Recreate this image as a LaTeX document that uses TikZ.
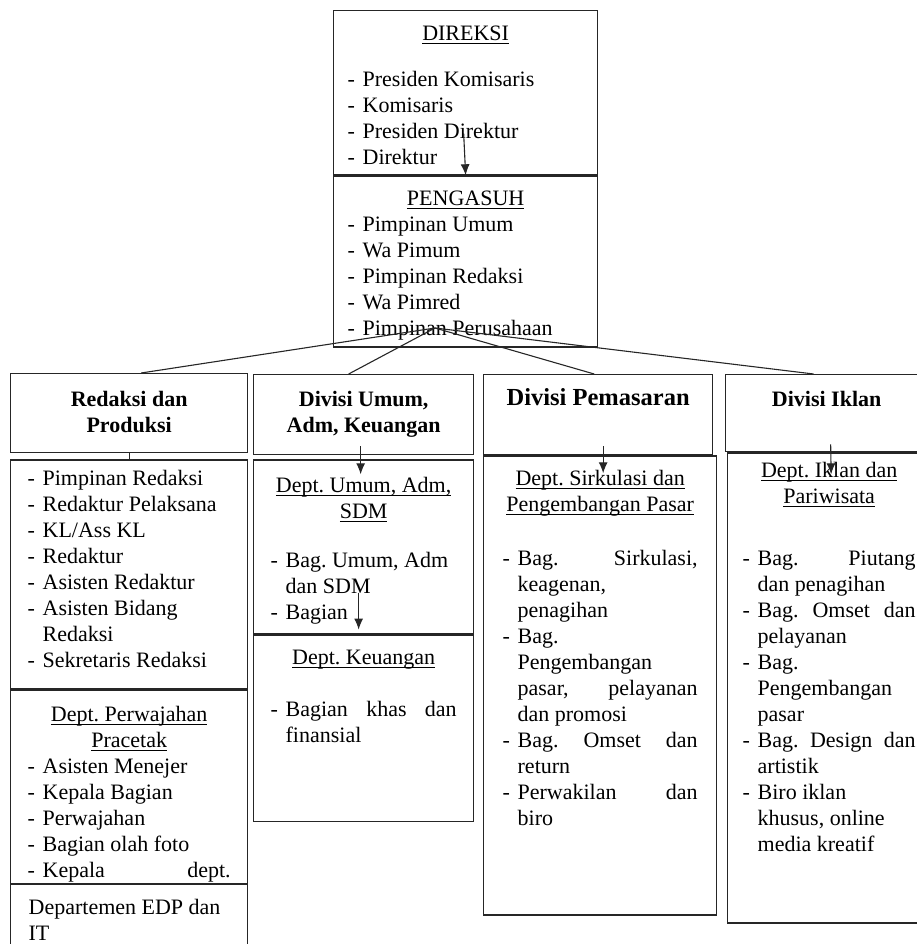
\documentclass[tikz,border=0pt]{standalone}
\usepackage{fontspec}
\setmainfont{Liberation Serif}
\usetikzlibrary{positioning, arrows.meta}
\tikzstyle{unit} = [draw=black!85, line width=1.3pt, inner ysep=0pt, font=\fontsize{22}{26}\selectfont]
\tikzstyle{arr} = [-{Latex[length=11pt,width=9pt]}, line width=1.1pt, black!85]
\tikzstyle{link} = [line width=1.1pt, black!85]
\newsavebox{\ulbox}
\newcommand{\uln}[1]{\leavevmode\sbox{\ulbox}{#1}\rlap{\rule[-3.5pt]{\wd\ulbox}{1pt}}\usebox{\ulbox}}
\newcommand{\cell}[3]{\parbox[c][#2][t]{#1}{\frenchspacing #3}}
\newcommand{\itm}{\makebox[15pt][l]{-}}
\newcommand{\indt}{\hspace*{15pt}}

\begin{document}
\begin{tikzpicture}[x=1pt, y=-1pt]
    \useasboundingbox (0,0) rectangle (917,944);
    \clip (0,0) rectangle (917,944);
    \node (direksi) [unit, anchor=north west, inner xsep=14pt] at (333,10) {\cell{236pt}{164pt}{\vspace*{11.8pt}{\centering\strut\uln{DIREKSI}\par}\vspace{20pt}\itm Presiden Komisaris\\ \itm Komisaris\\ \itm Presiden Direktur\\ \itm Direktur}};
    \node (pengasuh) [unit, below=0pt of direksi, inner xsep=14pt] {\cell{236pt}{171pt}{\vspace*{11.8pt}{\centering\strut\uln{PENGASUH}\par}\itm Pimpinan Umum\\ \itm Wa Pimum\\ \itm Pimpinan Redaksi\\ \itm Wa Pimred\\ \itm Pimpinan Perusahaan}};

    \node (redaksi) [unit, anchor=north west, inner xsep=10pt] at (10,373) {\cell{217pt}{79pt}{\vspace*{14.8pt}\centering\bfseries\strut Redaksi dan\\ Produksi}};
    \node (redstaf) [unit, below=6pt of redaksi, inner xsep=17pt] {\cell{203pt}{229pt}{\vspace*{7.8pt}\strut\itm Pimpinan Redaksi\\ \itm Redaktur Pelaksana\\ \itm KL/Ass KL\\ \itm Redaktur\\ \itm Asisten Redaktur\\ \itm Asisten Bidang\\ \indt Redaksi\\ \itm Sekretaris Redaksi}};
    \node (pracetak) [unit, below=0pt of redstaf, inner xsep=17pt] {\cell{203pt}{193pt}{\vspace*{12.8pt}{\centering\strut\uln{Dept. Perwajahan}\\ \uln{Pracetak}\par}\itm Asisten Menejer\\ \itm Kepala Bagian\\ \itm Perwajahan\\ \itm Bagian olah foto\\ \itm Kepala\hfill dept.}};
    \node (edp) [unit, below=0pt of pracetak, inner xsep=18pt] {\cell{201pt}{90pt}{\vspace*{11.8pt}\strut Departemen EDP dan\\ IT}};

    \node (umum) [unit, anchor=north west, inner xsep=10pt] at (253,374) {\cell{200pt}{80pt}{\vspace*{13.8pt}\centering\bfseries\strut Divisi Umum,\\ Adm, Keuangan}};
    \node (sdm) [unit, below=4pt of umum, inner xsep=17pt] {\cell{186pt}{174pt}{\vspace*{14.8pt}{\centering\strut\uln{Dept. Umum, Adm,}\\ \uln{SDM}\par}\vspace{23pt}\itm Bag. Umum, Adm\\ \indt dan SDM\\ \itm Bagian}};
    \node (keuangan) [unit, below=0pt of sdm, inner xsep=17pt] {\cell{186pt}{186pt}{\vspace*{10.8pt}{\centering\strut\uln{Dept. Keuangan}\par}\vspace{26pt}\itm Bagian khas dan\linebreak \indt finansial}};

    \node (pemasaran) [unit, anchor=north west, inner xsep=5pt] at (483,374) {\cell{219pt}{80pt}{\fontsize{24.5}{28}\selectfont\vspace*{11.4pt}\centering\bfseries\strut Divisi Pemasaran}};
    \node (sirkulasi) [unit, below=0pt of pemasaran.south west, anchor=north west, inner xsep=19pt] {\cell{195pt}{459pt}{\vspace*{11.8pt}{\centering\strut\uln{Dept. Sirkulasi dan}\\ \uln{Pengembangan Pasar}\par}\vspace{28pt}\itm Bag. Sirkulasi,\linebreak \indt keagenan,\\ \indt penagihan\\ \itm Bag.\\ \indt Pengembangan\\ \indt pasar, pelayanan\linebreak \indt dan promosi\\ \itm Bag. Omset dan\linebreak \indt return\\ \itm Perwakilan dan\linebreak \indt biro}};

    \node (iklan) [unit, anchor=north west, inner xsep=10pt] at (725,374) {\cell{182pt}{77pt}{\vspace*{13.8pt}\centering\bfseries\strut Divisi Iklan}};
    \node (pariwisata) [unit, below=0pt of iklan.south west, anchor=north west, xshift=2pt, inner xsep=15pt] {\cell{173pt}{470pt}{\vspace*{6.8pt}{\centering\strut\uln{Dept. Iklan dan}\\ \uln{Pariwisata}\par}\vspace{36pt}\itm Bag. Piutang\linebreak \indt dan penagihan\\ \itm Bag. Omset dan\linebreak \indt pelayanan\\ \itm Bag.\\ \indt Pengembangan\\ \indt pasar\\ \itm Bag. Design dan\linebreak \indt artistik\\ \itm Biro iklan\\ \indt khusus, online\\ \indt media kreatif}};

    \coordinate (hub) at (435,328);
    \draw [link] (hub) -- ([xshift=12pt]redaksi.north);
    \draw [link] (hub) -- ([xshift=-15pt]umum.north);
    \draw [link] (hub) -- ([xshift=-4pt]pemasaran.north);
    \draw [link] (hub) -- ([xshift=-13pt]iklan.north);
    \draw [link] (redaksi) -- (redstaf);
    \draw [arr] ([xshift=-2pt,yshift=42pt]pengasuh.north) -- (pengasuh.north);
    \draw [arr] ([xshift=-3pt,yshift=9pt]umum.south) -- ([xshift=-3pt,yshift=-15pt]sdm.north);
    \draw [arr] ([xshift=-5pt,yshift=42pt]keuangan.north) -- ([xshift=-5pt,yshift=5pt]keuangan.north);
    \draw [arr] ([xshift=5pt,yshift=9pt]pemasaran.south) -- ([xshift=3pt,yshift=-18pt]sirkulasi.north);
    \draw [arr] ([xshift=4pt,yshift=8pt]iklan.south) -- ([xshift=2pt,yshift=-22pt]pariwisata.north);
\end{tikzpicture}
\end{document}
